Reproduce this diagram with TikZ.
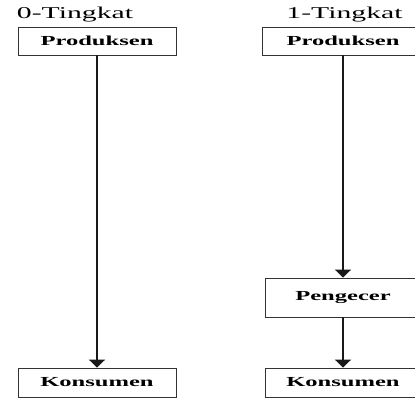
\documentclass[tikz,border=0pt]{standalone}
\usepackage{fontspec}
\setmainfont{Liberation Serif}
\usetikzlibrary{arrows.meta}
\newcommand{\wtx}[1]{\scalebox{1.78}[1]{#1}}
\newcommand{\wtt}[1]{\scalebox{1.8}[1]{#1}}
\begin{document}
\begin{tikzpicture}[x=1pt,y=-1pt,
  box/.style={draw=black!80, line width=0.9pt, inner sep=0pt, font=\fontsize{13.8}{15}\selectfont\bfseries},
  title/.style={inner sep=0pt, font=\fontsize{16.5}{18}\selectfont},
  arr/.style={line width=2.2pt, draw=black!90, -{Triangle[width=16pt,length=8pt]}}]
\useasboundingbox (0,0) rectangle (415,398);
\clip (0,0) rectangle (415,398);
\fill[white] (0,0) rectangle (415,398);
% titles
\node[title, anchor=base] (t0) at (75,18.3) {\wtt{0-Tingkat}};
\node[title, anchor=base] (t1) at (344.5,18.3) {\wtt{1-Tingkat}};
% left column
\node[box, minimum width=158pt, minimum height=28pt] (p0) at (97,41) {\wtx{Produksen}};
\node[box, minimum width=158pt, minimum height=29pt] (k0) at (97,382.5) {\wtx{Konsumen}};
% right column
\node[box, minimum width=162pt, minimum height=28pt] (p1) at (343,41) {\wtx{Produksen}};
\node[box, minimum width=156pt, minimum height=39pt] (g1) at (343,297.5) {\wtx{Pengecer}};
\node[box, minimum width=156pt, minimum height=29pt] (k1) at (343,382.5) {\wtx{Konsumen}};
% arrows
\draw[arr] (p0.south) -- (k0.north);
\draw[arr] (p1.south) -- (g1.north);
\draw[arr] (g1.south) -- (k1.north);
\end{tikzpicture}
\end{document}
